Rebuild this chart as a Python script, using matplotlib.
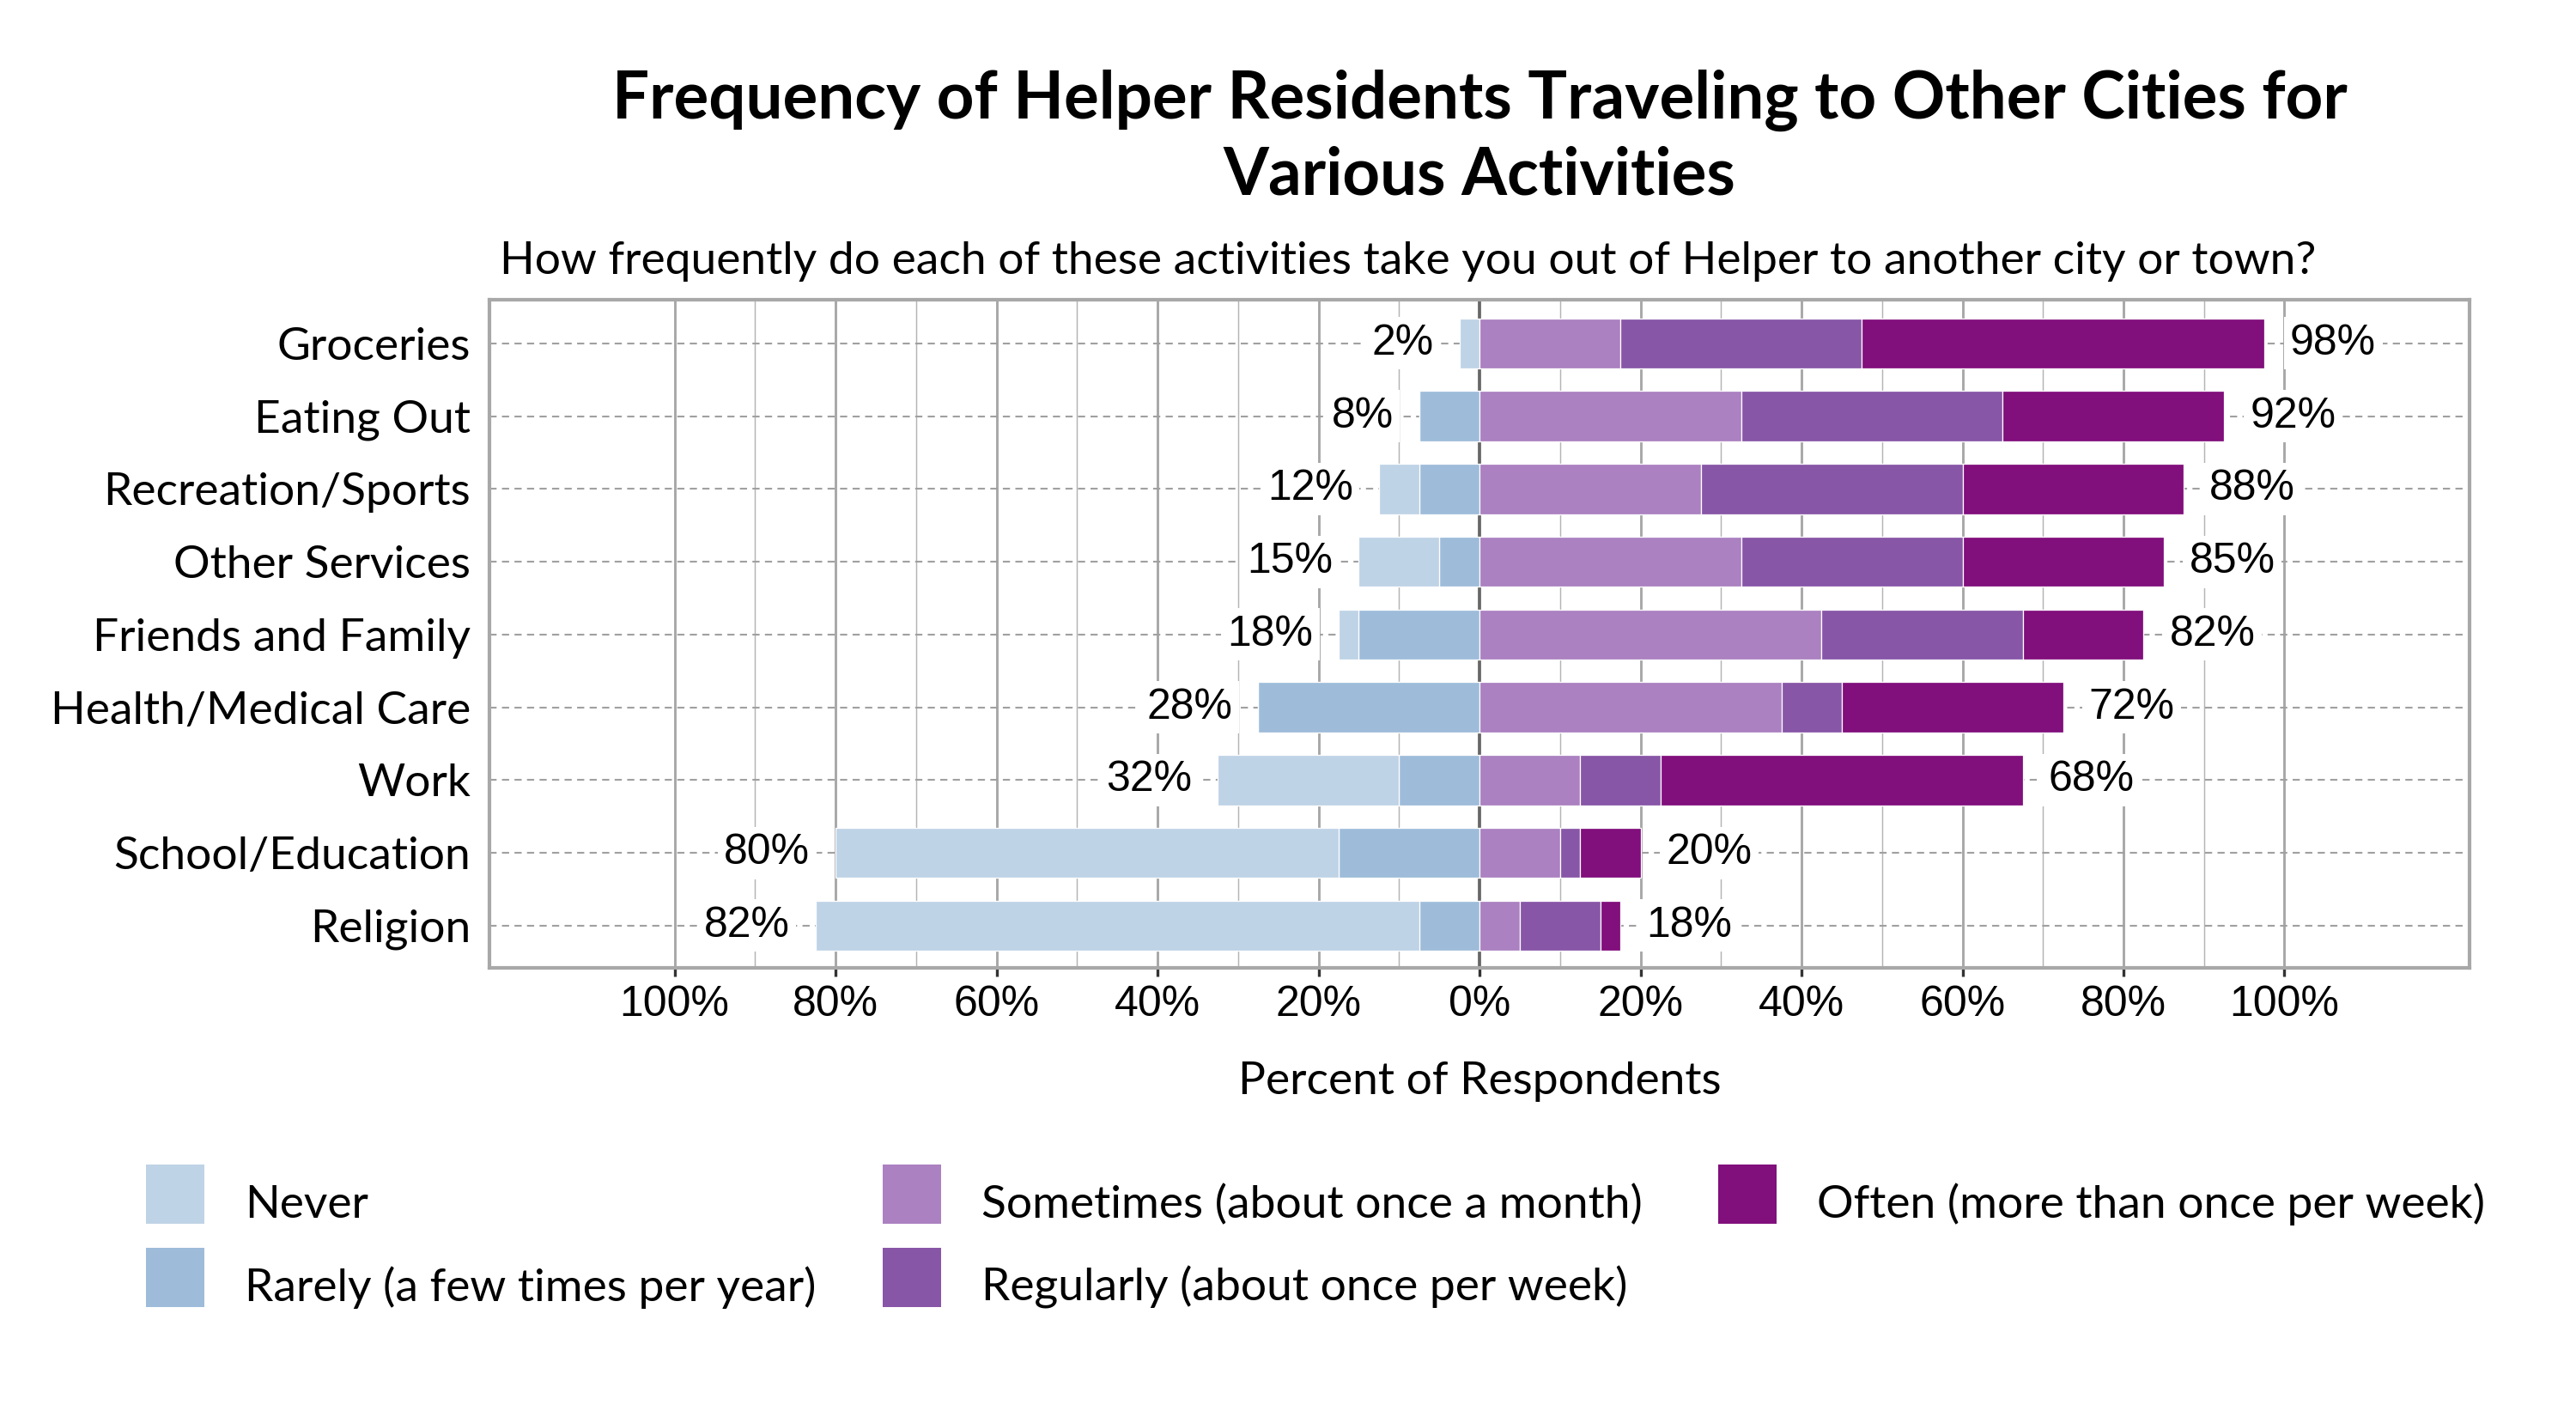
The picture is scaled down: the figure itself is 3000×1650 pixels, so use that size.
import matplotlib.pyplot as plt
from matplotlib.patches import Rectangle

categories = ['Groceries', 'Eating Out', 'Recreation/Sports', 'Other Services',
              'Friends and Family', 'Health/Medical Care', 'Work',
              'School/Education', 'Religion']
never = [2.5, 0, 5, 10, 2.5, 0, 22.5, 62.5, 75]
rarely = [0, 7.5, 7.5, 5, 15, 27.5, 10, 17.5, 7.5]
sometimes = [17.5, 32.5, 27.5, 32.5, 42.5, 37.5, 12.5, 10, 5]
regularly = [30, 32.5, 32.5, 27.5, 25, 7.5, 10, 2.5, 10]
often = [50, 27.5, 27.5, 25, 15, 27.5, 45, 7.5, 2.5]

legend_labels = ['Never', 'Rarely (a few times per year)', 'Sometimes (about once a month)',
                 'Regularly (about once per week)', 'Often (more than once per week)']
colors = ['#bfd3e6', '#9ebcda', '#ab81c1', '#8856a7', '#810f7c']

TEXT_FONT = 'Lato'
NUM_FONT = 'Liberation Sans'
TXT = 12.8
NUM = 12

fig = plt.figure(figsize=(10, 5.5), dpi=300)
ax = fig.add_axes([0.19, 0.317, 0.7687, 0.4715])

y = list(range(len(categories)))
h = 0.69
kw = dict(height=h, edgecolor='white', linewidth=0.3, zorder=3)

# negative side: rarely next to zero, never outside
ax.barh(y, [-v for v in rarely], color=colors[1], **kw)
ax.barh(y, [-v for v in never], left=[-v for v in rarely], color=colors[0], **kw)
# positive side
ax.barh(y, sometimes, color=colors[2], **kw)
ax.barh(y, regularly, left=sometimes, color=colors[3], **kw)
left3 = [a + b for a, b in zip(sometimes, regularly)]
ax.barh(y, often, left=left3, color=colors[4], **kw)

box = dict(boxstyle='square,pad=0.15', facecolor='white', edgecolor='none')
for i in y:
    neg = never[i] + rarely[i]
    pos = sometimes[i] + regularly[i] + often[i]
    ax.text(-neg - 3.2, i, f'{round(neg)}%', ha='right', va='center',
            fontsize=NUM, family=NUM_FONT, bbox=box, zorder=4)
    ax.text(pos + 3.2, i, f'{round(pos)}%', ha='left', va='center',
            fontsize=NUM, family=NUM_FONT, bbox=box, zorder=4)

# grid lines
for x in range(-100, 101, 10):
    if x == 0:
        ax.axvline(0, color='#666666', lw=0.9, zorder=2)
    elif x % 20 == 0:
        ax.axvline(x, color='#a8a8a8', lw=0.7, zorder=1)
    else:
        ax.axvline(x, color='#b4b4b4', lw=0.35, zorder=1)
for i in y:
    ax.axhline(i, color='#a0a0a0', lw=0.5, ls=(0, (4, 3)), zorder=1)

ax.set_xlim(-123, 123)
ax.set_ylim(len(categories) - 0.42, -0.6)

ticks = list(range(-100, 101, 20))
ax.set_xticks(ticks)
ax.set_xticklabels([f'{abs(t)}%' for t in ticks], family=NUM_FONT, fontsize=NUM)
ax.tick_params(axis='x', length=2.4, width=0.8, color='#333333', pad=2.5)
ax.set_yticks(y)
ax.set_yticklabels(categories, family=TEXT_FONT, fontsize=TXT)
ax.tick_params(axis='y', length=0, pad=5.3)

for s in ax.spines.values():
    s.set_color('#a8a8a8')
    s.set_linewidth(1.0)

cx = 0.19 + 0.7687 / 2
fig.text(cx, 0.903, 'Frequency of Helper Residents Traveling to Other Cities for\nVarious Activities',
         ha='center', va='center', fontsize=18.3, fontweight='bold', family=TEXT_FONT,
         linespacing=1.3)
fig.text(0.5467, 0.8155, 'How frequently do each of these activities take you out of Helper to another city or town?',
         ha='center', va='center', fontsize=TXT, family=TEXT_FONT)
fig.text(cx, 0.2364, 'Percent of Respondents', ha='center', va='center',
         fontsize=TXT, family=TEXT_FONT)

# legend, column-major like the original
col_x = [170, 1028, 2001]
row_y = [1356, 1453]
W, H = 3000, 1650
for k, lab in enumerate(legend_labels):
    c, r = divmod(k, 2)
    px, py = col_x[c], row_y[r]
    fig.add_artist(Rectangle((px / W, 1 - (py + 69) / H), 68 / W, 69 / H,
                             transform=fig.transFigure, facecolor=colors[k],
                             edgecolor='none'))
    fig.text((px + 115) / W, 1 - (py + 62) / H, lab, ha='left', va='baseline',
             fontsize=TXT, family=TEXT_FONT)

fig.savefig('out.png', dpi=300, facecolor='white')
